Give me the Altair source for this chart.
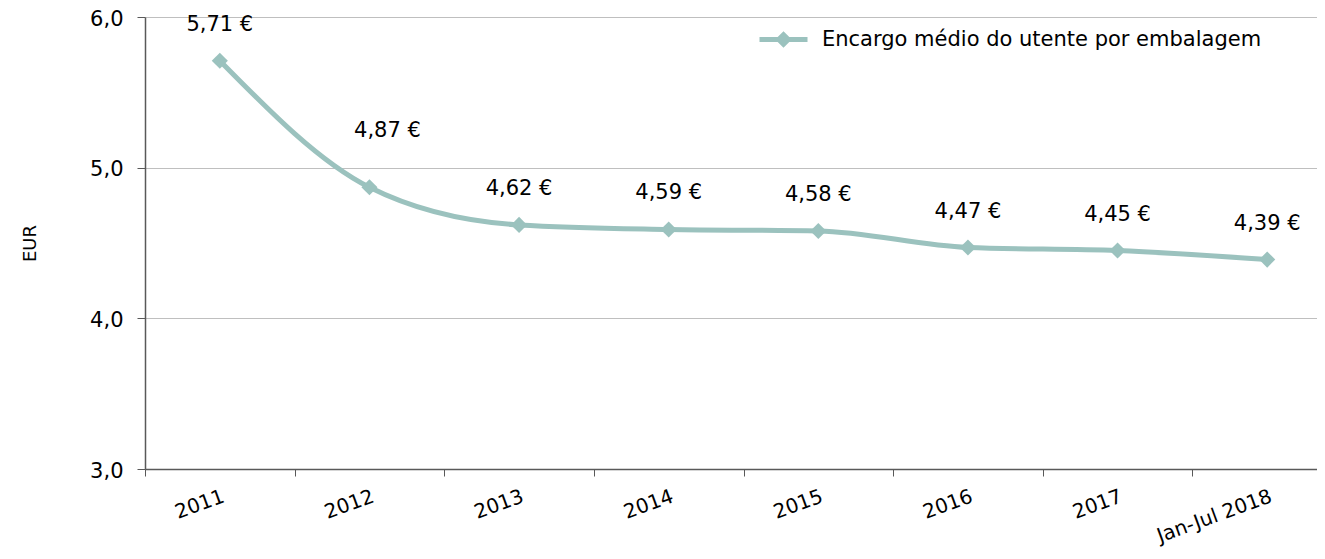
import altair as alt
import pandas as pd

categories = ["2011", "2012", "2013", "2014", "2015", "2016", "2017", "Jan-Jul 2018"]
values = [5.71, 4.87, 4.62, 4.59, 4.58, 4.47, 4.45, 4.39]
series_name = "Encargo médio do utente por embalagem"
y_ticks = [3.0, 4.0, 5.0, 6.0]

df = pd.DataFrame({"cat": categories, "v": values, "series": series_name})
df["label"] = [f"{v:.2f}".replace(".", ",") + " €" for v in values]

COLOR = "#9BC2BE"
FONT = "DejaVu Sans"
AXIS_COLOR = "#595959"

x = alt.X(
    "cat:N",
    sort=categories,
    scale=alt.Scale(type="band", range=[0, 1197], paddingInner=0, paddingOuter=0),
    axis=alt.Axis(
        title=None,
        labelAngle=-20,
        labelAlign="right",
        labelBaseline="top",
        labelPadding=10,
        labelFontSize=20,
        labelFont=FONT,
        labelColor="black",
        tickBand="extent",
        tickSize=7,
        tickColor=AXIS_COLOR,
        domainColor=AXIS_COLOR,
        domainWidth=1.5,
        grid=False,
    ),
)

y = alt.Y(
    "v:Q",
    scale=alt.Scale(domain=[3, 6], nice=False, zero=False),
    axis=alt.Axis(
        values=y_ticks,
        labelExpr="replace(format(datum.value, '.1f'), '.', ',')",
        title="EUR",
        titleFont=FONT,
        titleFontSize=18,
        titleFontWeight="normal",
        titleColor="black",
        titlePadding=50,
        labelFont=FONT,
        labelFontSize=21,
        labelColor="black",
        labelPadding=14,
        labelOffset=2,
        tickSize=8,
        tickColor=AXIS_COLOR,
        domainColor=AXIS_COLOR,
        domainWidth=1.5,
        grid=True,
        gridColor="#BFBFBF",
        gridWidth=1.2,
    ),
)

base = alt.Chart(df)

line = base.mark_line(interpolate="monotone", strokeWidth=5).encode(
    x=x,
    y=y,
    color=alt.Color(
        "series:N",
        scale=alt.Scale(range=[COLOR]),
        legend=alt.Legend(
            title=None,
            orient="none",
            legendX=612,
            legendY=-4,
            symbolType="M-1,0L1,0M0,-0.2L0.2,0L0,0.2L-0.2,0Z",
            symbolSize=2304,
            symbolStrokeWidth=5,
            symbolFillColor=COLOR,
            symbolStrokeColor=COLOR,
            labelFont=FONT,
            labelFontSize=21,
            labelColor="black",
            labelOffset=12,
            labelLimit=600,
        ),
    ),
)

points = base.mark_point(shape="diamond", filled=True, size=260, color=COLOR, opacity=1).encode(
    x=x, y=y
)

labels_main = base.transform_filter(alt.datum.cat != "2012").mark_text(
    dy=-36, fontSize=21, font=FONT, color="black"
).encode(x=x, y=y, text="label:N")

labels_2012 = base.transform_filter(alt.datum.cat == "2012").mark_text(
    dx=18, dy=-56, fontSize=21, font=FONT, color="black"
).encode(x=x, y=y, text="label:N")

chart = (
    alt.layer(line, points, labels_main, labels_2012)
    .properties(
        width=1172,
        height=452,
        autosize=alt.AutoSizeParams(type="none"),
        padding={"left": 137, "top": 9, "right": 0, "bottom": 82},
        background="white",
    )
    .configure_view(stroke=None)
)

chart.save("out.html", embed_options={"renderer": "svg", "actions": False})
